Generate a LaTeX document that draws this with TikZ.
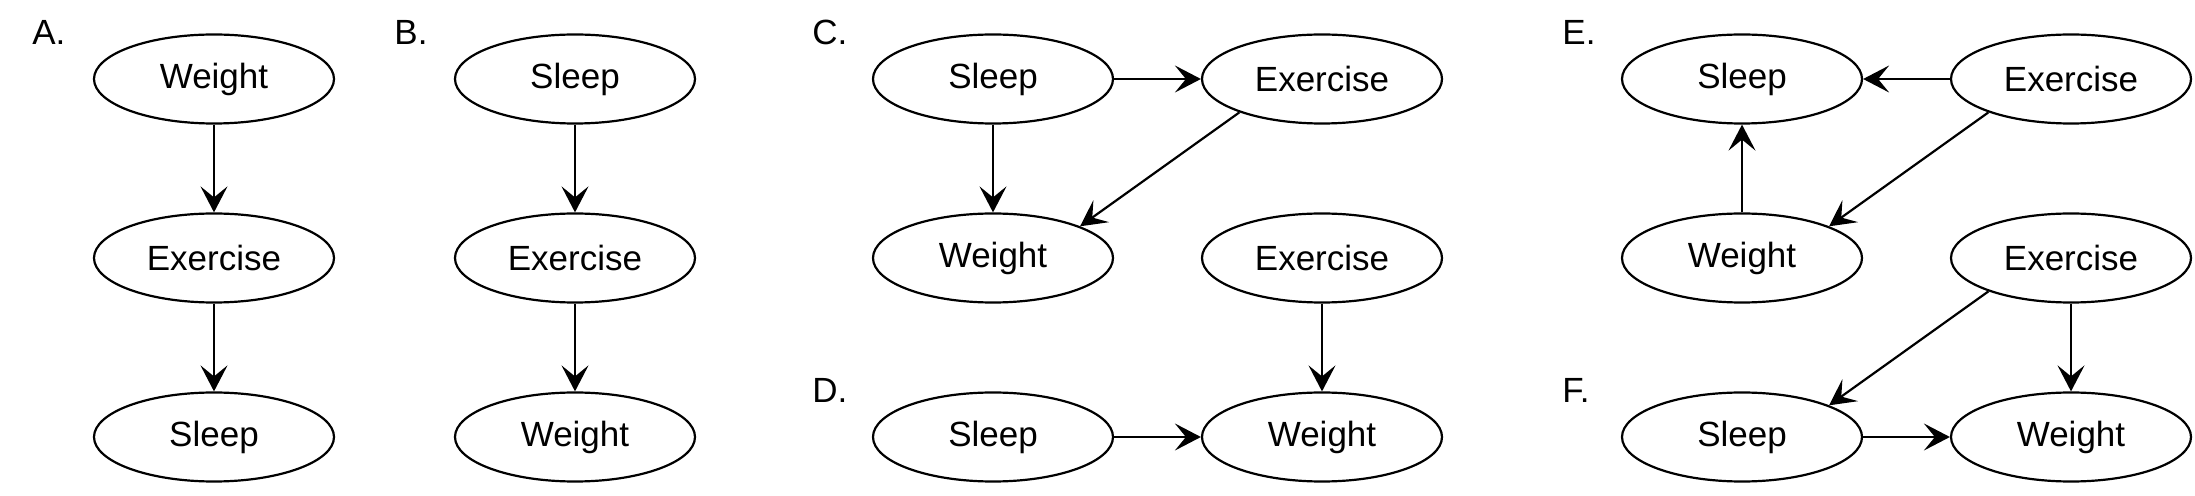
\documentclass[tikz,border=0pt]{standalone}
\usepackage{fontspec}
\setmainfont{Liberation Sans}
\usetikzlibrary{arrows.meta,shapes.geometric}
\begin{document}
\begin{tikzpicture}[x=0.5pt,y=-0.5pt,
  var/.style={draw=black, line width=1.1pt, ellipse, minimum width=120pt, minimum height=44.5pt, inner sep=0pt, font=\fontsize{17.5}{21}\selectfont},
  panel/.style={anchor=base west, inner sep=0pt, font=\fontsize{17.5}{21}\selectfont},
  edge/.style={line width=1.1pt, -{Stealth[length=13pt, width=13.5pt, inset=5.5pt]}}]
\useasboundingbox (0,0) rectangle (2195,496);
% labels
\node[panel] (la) at (32,45) {A.};
\node[panel] (lb) at (394,45) {B.};
\node[panel] (lc) at (812,45) {C.};
\node[panel] (ld) at (812,403) {D.};
\node[panel] (le) at (1562,45) {E.};
\node[panel] (lf) at (1562,403) {F.};
% A
\node[var] (aw) at (214,79) {Weight};
\node[var] (ae) at (214,258) {Exercise};
\node[var] (as) at (214,437) {Sleep};
\draw[edge] (aw) -- (ae);
\draw[edge] (ae) -- (as);
% B
\node[var] (bs) at (575,79) {Sleep};
\node[var] (be) at (575,258) {Exercise};
\node[var] (bw) at (575,437) {Weight};
\draw[edge] (bs) -- (be);
\draw[edge] (be) -- (bw);
% C
\node[var] (cs) at (993,79) {Sleep};
\node[var] (ce) at (1322,79) {Exercise};
\node[var] (cw) at (993,258) {Weight};
\draw[edge] (cs) -- (ce);
\draw[edge] (cs) -- (cw);
\draw[edge] (ce.202) -- (cw.20);
% D
\node[var] (de) at (1322,258) {Exercise};
\node[var] (ds) at (993,437) {Sleep};
\node[var] (dw) at (1322,437) {Weight};
\draw[edge] (de) -- (dw);
\draw[edge] (ds) -- (dw);
% E
\node[var] (es) at (1742,79) {Sleep};
\node[var] (ee) at (2071,79) {Exercise};
\node[var] (ew) at (1742,258) {Weight};
\draw[edge] (ee) -- (es);
\draw[edge] (ew) -- (es);
\draw[edge] (ee.202) -- (ew.20);
% F
\node[var] (fe) at (2071,258) {Exercise};
\node[var] (fs) at (1742,437) {Sleep};
\node[var] (fw) at (2071,437) {Weight};
\draw[edge] (fe.202) -- (fs.20);
\draw[edge] (fe) -- (fw);
\draw[edge] (fs) -- (fw);
\end{tikzpicture}
\end{document}
